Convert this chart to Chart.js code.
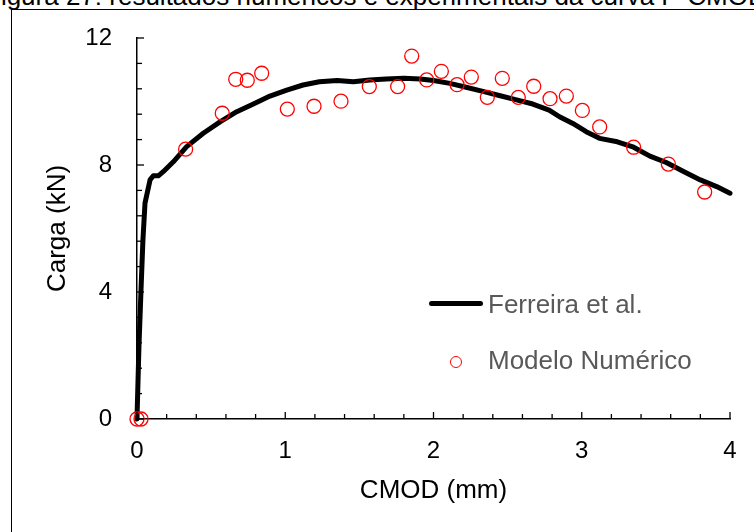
<!DOCTYPE html>
<html>
<head>
<meta charset="utf-8">
<script src="https://cdn.jsdelivr.net/npm/chart.js@4.4.1/dist/chart.umd.min.js"></script>
<style>
  html, body { margin: 0; padding: 0; background: #fff; overflow: hidden; }
  body { width: 754px; height: 532px; position: relative; font-family: "Liberation Sans", Arial, sans-serif; }
  #caption { position: absolute; left: -15px; top: -17px; font-size: 26px; line-height: 26px; white-space: nowrap; color: #000; }
  #caixa { position: absolute; left: 11px; top: 9px; width: 900px; height: 900px; border: 1.3px solid #000; }
  #grafico { position: absolute; left: 0; top: 0; }
  .leg-texto { position: absolute; left: 488px; font-size: 26px; line-height: 30px; color: #595959; white-space: nowrap; }
  #leg-linha { position: absolute; left: 429px; top: 301px; width: 54px; height: 5px; background: #000; border-radius: 3px; }
  #leg-circulo { position: absolute; left: 450px; top: 356px; width: 12px; height: 12px; box-sizing: border-box; border: 1.3px solid #ff0000; border-radius: 50%; }
</style>
</head>
<body>
<div id="caption">Figura 27: resultados numéricos e experimentais da curva P-CMOD</div>
<div id="caixa"></div>
<canvas id="grafico" width="754" height="532"></canvas>
<div id="leg-linha"></div>
<div class="leg-texto" style="top:289px">Ferreira et al.</div>
<div id="leg-circulo"></div>
<div class="leg-texto" style="top:345px">Modelo Numérico</div>

<script>
// Curva experimental (Ferreira et al.)
const ferreiraX = [0, 0.013, 0.027, 0.04, 0.054, 0.088, 0.11, 0.144, 0.177, 0.245, 0.335, 0.447, 0.56, 0.673, 0.785, 0.897, 1.01, 1.12, 1.23, 1.35, 1.46, 1.57, 1.68, 1.80, 1.91, 2.00, 2.11, 2.22, 2.34, 2.45, 2.56, 2.67, 2.78, 2.85, 2.94, 3.03, 3.12, 3.24, 3.35, 3.46, 3.57, 3.69, 3.80, 3.91, 4.00];
const ferreiraY = [0, 2.27, 4.06, 5.64, 6.80, 7.53, 7.66, 7.66, 7.79, 8.10, 8.58, 9.00, 9.36, 9.68, 9.92, 10.17, 10.36, 10.52, 10.62, 10.66, 10.62, 10.68, 10.71, 10.73, 10.71, 10.66, 10.57, 10.45, 10.31, 10.18, 10.05, 9.92, 9.73, 9.52, 9.31, 9.05, 8.84, 8.73, 8.56, 8.28, 8.08, 7.79, 7.53, 7.32, 7.11];

// Pontos do modelo numérico
const modeloX = [0, 0.027, 0.328, 0.575, 0.666, 0.744, 0.841, 1.014, 1.194, 1.376, 1.567, 1.758, 1.853, 1.954, 2.053, 2.159, 2.255, 2.363, 2.464, 2.572, 2.676, 2.786, 2.896, 3.004, 3.121, 3.350, 3.584, 3.829];
const modeloY = [0, 0, 8.50, 9.63, 10.70, 10.67, 10.89, 9.76, 9.85, 10.01, 10.47, 10.47, 11.43, 10.68, 10.95, 10.53, 10.77, 10.13, 10.73, 10.13, 10.48, 10.09, 10.17, 9.72, 9.20, 8.56, 8.03, 7.15];

const rotulos = ['Ferreira et al.', 'Modelo Numérico'];
const tituloX = 'CMOD (mm)';
const tituloY = 'Carga (kN)';

const fonte = '"Liberation Sans", Arial, sans-serif';

// marcas de escala para dentro, como no Excel
const marcasInternas = {
    id: 'marcasInternas',
    afterDraw(chart) {
        const { ctx, scales: { x, y } } = chart;
        ctx.save();
        ctx.strokeStyle = '#000';
        ctx.lineWidth = 1.3;
        for (let i = 0; i <= 20; i++) {
            const px = x.getPixelForValue(i * 0.2);
            const len = i % 5 === 0 ? 7 : 5;
            ctx.beginPath();
            ctx.moveTo(px, y.bottom);
            ctx.lineTo(px, y.bottom - len);
            ctx.stroke();
        }
        for (let i = 0; i <= 15; i++) {
            const py = y.getPixelForValue(i * 0.8);
            const len = i % 5 === 0 ? 7 : 5;
            ctx.beginPath();
            ctx.moveTo(x.left, py);
            ctx.lineTo(x.left + len, py);
            ctx.stroke();
        }
        ctx.restore();
    }
};

const ctx = document.getElementById('grafico').getContext('2d');

new Chart(ctx, {
    type: 'scatter',
    data: {
        datasets: [
            {
                label: rotulos[1],
                data: modeloX.map((v, i) => ({ x: v, y: modeloY[i] })),
                pointStyle: 'circle',
                pointRadius: 7,
                pointBorderWidth: 1.3,
                pointBorderColor: '#ff0000',
                pointBackgroundColor: 'rgba(0,0,0,0)',
                showLine: false,
                clip: false,
                order: 0,
            },
            {
                label: rotulos[0],
                data: ferreiraX.map((v, i) => ({ x: v, y: ferreiraY[i] })),
                showLine: true,
                borderColor: '#000',
                borderWidth: 5,
                borderCapStyle: 'round',
                borderJoinStyle: 'round',
                pointRadius: 0,
                tension: 0,
                clip: false,
                order: 1,
            },
        ],
    },
    options: {
        responsive: false,
        animation: false,
        devicePixelRatio: 1,
        layout: { padding: { top: 38, right: 24, left: 0, bottom: 0 } },
        plugins: {
            legend: { display: false },
            tooltip: { enabled: false },
        },
        scales: {
            x: {
                type: 'linear',
                min: 0,
                max: 4,
                afterFit(scale) { scale.height = 113; },
                grid: { display: false },
                border: { color: '#000', width: 1.5 },
                ticks: {
                    stepSize: 1,
                    padding: 10,
                    color: '#000',
                    font: { family: fonte, size: 24 },
                },
                title: {
                    display: true,
                    text: tituloX,
                    color: '#000',
                    font: { family: fonte, size: 26 },
                    padding: { top: 0, bottom: 26 },
                },
            },
            y: {
                type: 'linear',
                min: 0,
                max: 12,
                afterFit(scale) { scale.width = 137; },
                grid: { display: false },
                border: { color: '#000', width: 1.5 },
                ticks: {
                    stepSize: 4,
                    padding: 17,
                    color: '#000',
                    font: { family: fonte, size: 24 },
                },
                title: {
                    display: true,
                    text: tituloY,
                    color: '#000',
                    font: { family: fonte, size: 26 },
                    padding: { top: 42, bottom: 0 },
                },
            },
        },
    },
    plugins: [marcasInternas],
});
</script>
</body>
</html>
